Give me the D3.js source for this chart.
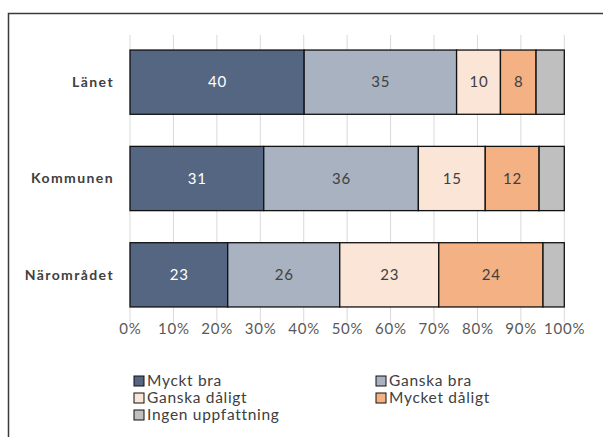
<!DOCTYPE html>
<html>
<head>
<meta charset="utf-8">
<script src="https://cdn.jsdelivr.net/npm/d3@7"></script>
<style>
  html, body { margin: 0; background: #fff; overflow: hidden; }
  svg { display: block; font-family: Lato, "Open Sans", sans-serif; }
</style>
</head>
<body>
<div id="chart"></div>
<script>
const categories = ["Länet", "Kommunen", "Närområdet"];
const seriesNames = ["Myckt bra", "Ganska bra", "Ganska dåligt", "Mycket dåligt", "Ingen uppfattning"];
const seriesColors = ["#546682", "#A9B2C0", "#FBE5D6", "#F4B183", "#BFBFBF"];
// share per category, in the order of seriesNames
const mycktBra = [40.1, 30.8, 22.5];
const ganskaBra = [35.1, 35.6, 25.8];
const ganskaDaligt = [10.1, 15.4, 22.8];
const mycketDaligt = [8.2, 12.4, 24.0];
const ingenUppfattning = [6.5, 5.8, 4.9];
const xTicks = [0, 10, 20, 30, 40, 50, 60, 70, 80, 90, 100];

const width = 603, height = 437;
const svg = d3.select("#chart").append("svg")
    .attr("width", width)
    .attr("height", height);

// chart frame, only left and top edges are inside the picture
svg.append("path")
    .attr("d", `M8.5,${height} V13.5 H${width}`)
    .attr("fill", "none")
    .attr("stroke", "#3a3a3a")
    .attr("stroke-width", 1.5);

const x = d3.scaleLinear().domain([0, 100]).range([130, 564.3]);
const y = d3.scaleBand().domain(categories).range([34, 323])
    .paddingInner(0.333).paddingOuter(0.1665);

// gridlines
svg.append("g")
    .selectAll("line")
    .data(xTicks)
    .join("line")
    .attr("x1", d => x(d)).attr("x2", d => x(d))
    .attr("y1", 35).attr("y2", 323)
    .attr("stroke", "#d9d9d9")
    .attr("stroke-width", 1);

// tick labels
svg.append("g")
    .selectAll("text")
    .data(xTicks)
    .join("text")
    .attr("x", d => x(d) + 0.4)
    .attr("y", 334)
    .attr("text-anchor", "middle")
    .attr("font-size", "15px")
    .attr("letter-spacing", "0.8px")
    .attr("fill", "#595959")
    .text(d => d + "%");

// stack
const rows = categories.map((c, i) => ({
    cat: c,
    vals: [mycktBra[i], ganskaBra[i], ganskaDaligt[i], mycketDaligt[i], ingenUppfattning[i]]
}));
const segs = [];
rows.forEach(r => {
    let acc = 0;
    r.vals.forEach((v, j) => {
        segs.push({cat: r.cat, s: j, x0: acc, x1: acc + v, v: v});
        acc += v;
    });
});

svg.append("g")
    .selectAll("rect")
    .data(segs)
    .join("rect")
    .attr("x", d => x(d.x0))
    .attr("y", d => y(d.cat))
    .attr("width", d => x(d.x1) - x(d.x0))
    .attr("height", y.bandwidth())
    .attr("fill", d => seriesColors[d.s])
    .attr("stroke", "#111")
    .attr("stroke-width", 1.3);

// data labels (none on "Ingen uppfattning")
svg.append("g")
    .selectAll("text")
    .data(segs.filter(d => d.s < 4))
    .join("text")
    .attr("x", d => (x(d.x0) + x(d.x1)) / 2 + 0.4)
    .attr("y", d => y(d.cat) + y.bandwidth() / 2)
    .attr("dy", "0.35em")
    .attr("text-anchor", "middle")
    .attr("font-size", "15px")
    .attr("letter-spacing", "0.8px")
    .attr("fill", d => d.s === 0 ? "#fff" : "#404040")
    .text(d => Math.round(d.v));

// category labels
svg.append("g")
    .selectAll("text")
    .data(categories)
    .join("text")
    .attr("x", 114)
    .attr("y", d => y(d) + y.bandwidth() / 2)
    .attr("dy", "0.35em")
    .attr("text-anchor", "end")
    .attr("font-size", "14px")
    .attr("letter-spacing", "1.4px")
    .attr("font-weight", "bold")
    .attr("fill", "#404040")
    .text(d => d);

// legend
const legendPos = [[134, 381], [376, 381], [134, 398], [376, 398], [134, 415]];
const legend = svg.append("g")
    .selectAll("g")
    .data(seriesNames)
    .join("g")
    .attr("transform", (d, i) => `translate(${legendPos[i][0]},${legendPos[i][1]})`);

legend.append("rect")
    .attr("x", 0).attr("y", -5)
    .attr("width", 10).attr("height", 10)
    .attr("fill", (d, i) => seriesColors[i])
    .attr("stroke", "#111")
    .attr("stroke-width", 1);

legend.append("text")
    .attr("x", 13)
    .attr("y", 0)
    .attr("dy", "0.35em")
    .attr("font-size", "15.5px")
    .attr("letter-spacing", "0.7px")
    .attr("fill", "#404040")
    .text(d => d);
</script>
</body>
</html>
